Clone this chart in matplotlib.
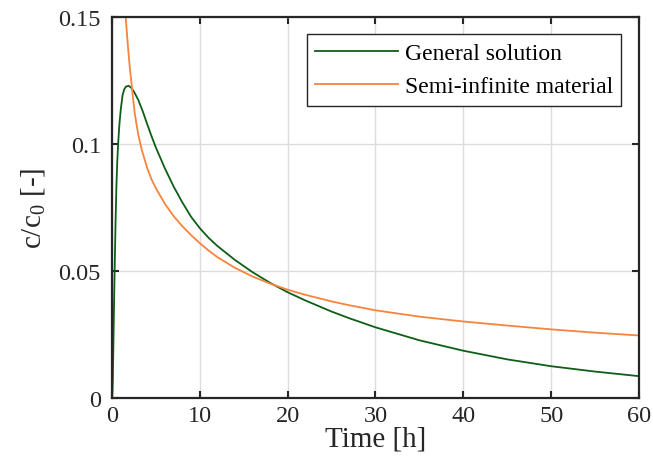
import matplotlib
matplotlib.use("Agg")
import matplotlib.pyplot as plt

# values
t_general = [0, 0.05, 0.1, 0.2, 0.3, 0.4, 0.5, 0.6, 0.7, 0.85, 1.0, 1.2, 1.4, 1.6, 1.9,
             2.2, 2.5, 3.0, 3.5, 4.0, 4.5, 5.0, 6.0, 7.0, 8.0, 9.0, 10, 11, 12, 14, 16,
             18, 20, 22, 25, 27, 30, 35, 40, 45, 50, 55, 60]
c_general = [0, 0.002, 0.008, 0.030, 0.050, 0.068, 0.083, 0.093, 0.100, 0.108, 0.1135,
             0.1190, 0.1215, 0.1225, 0.1228, 0.1220, 0.1205, 0.1172, 0.1128, 0.1078,
             0.1030, 0.0985, 0.0905, 0.0833, 0.0770, 0.0713, 0.0668, 0.0630, 0.0598,
             0.0543, 0.0495, 0.0453, 0.0416, 0.0384, 0.0340, 0.0314, 0.0278, 0.0227,
             0.0186, 0.0152, 0.0125, 0.0104, 0.0086]

t_semi = [1.4, 1.6, 1.8, 2.0, 2.2, 2.4, 2.6, 2.8, 3.0, 3.4, 4.0, 4.5, 5, 6, 7, 8, 9, 10,
          11, 12, 14, 16, 18, 20, 22, 25, 27, 30, 35, 40, 45, 50, 55, 60]
c_semi = [0.158, 0.148, 0.139, 0.131, 0.1245, 0.1178, 0.1118, 0.1075, 0.1035, 0.0975,
          0.0905, 0.0860, 0.0825, 0.0765, 0.0716, 0.0676, 0.0641, 0.0609, 0.0580,
          0.0554, 0.0512, 0.0478, 0.0450, 0.0426, 0.0406, 0.0380, 0.0365, 0.0345,
          0.0320, 0.0301, 0.0285, 0.0270, 0.0257, 0.0246]

x_ticks = [0, 10, 20, 30, 40, 50, 60]
y_ticks = [0, 0.05, 0.1, 0.15]
y_ticklabels = ["0", "0.05", "0.1", "0.15"]

plt.rcParams["font.family"] = ["Liberation Serif", "DejaVu Serif"]
plt.rcParams["mathtext.fontset"] = "custom"
plt.rcParams["mathtext.rm"] = "Liberation Serif"
plt.rcParams["mathtext.it"] = "Liberation Serif:italic"

fig = plt.figure(figsize=(6.53, 4.77), dpi=100)
ax = fig.add_axes([0.1715, 0.1635, 0.807, 0.7995])

ax.plot(t_general, c_general, color="#0d5e17", lw=1.3, label="General solution")
ax.plot(t_semi, c_semi, color="#f7843c", lw=1.3, label="Semi-infinite material")

ax.set_xlim(0, 60)
ax.set_ylim(0, 0.15)
ax.set_xticks(x_ticks)
ax.set_yticks(y_ticks)
ax.set_yticklabels(y_ticklabels)
ax.grid(True, color="#dcdcdc", lw=1.0)
ax.set_axisbelow(True)
ax.tick_params(direction="in", top=True, right=True, length=5, width=1.5,
               labelsize=17.5, color="#262626", labelcolor="#262626")
ax.tick_params(axis="y", pad=8)
ax.tick_params(axis="x", pad=5)
for s in ax.spines.values():
    s.set_linewidth(1.6)
    s.set_color("#262626")

ax.set_xlabel("Time [h]", fontsize=21, color="#262626", labelpad=0)
ax.set_ylabel(r"c/c$_{\mathrm{0}}$ [-]", fontsize=21, color="#262626", labelpad=8)

leg = ax.legend(loc="upper right", fontsize=17, handlelength=3.5, handletextpad=0.3,
                borderaxespad=0.75, fancybox=False, framealpha=1, borderpad=0.35,
                labelspacing=0.5)
leg.get_frame().set_edgecolor("#262626")
leg.get_frame().set_linewidth(1.0)

fig.savefig("out.png", dpi=100)
